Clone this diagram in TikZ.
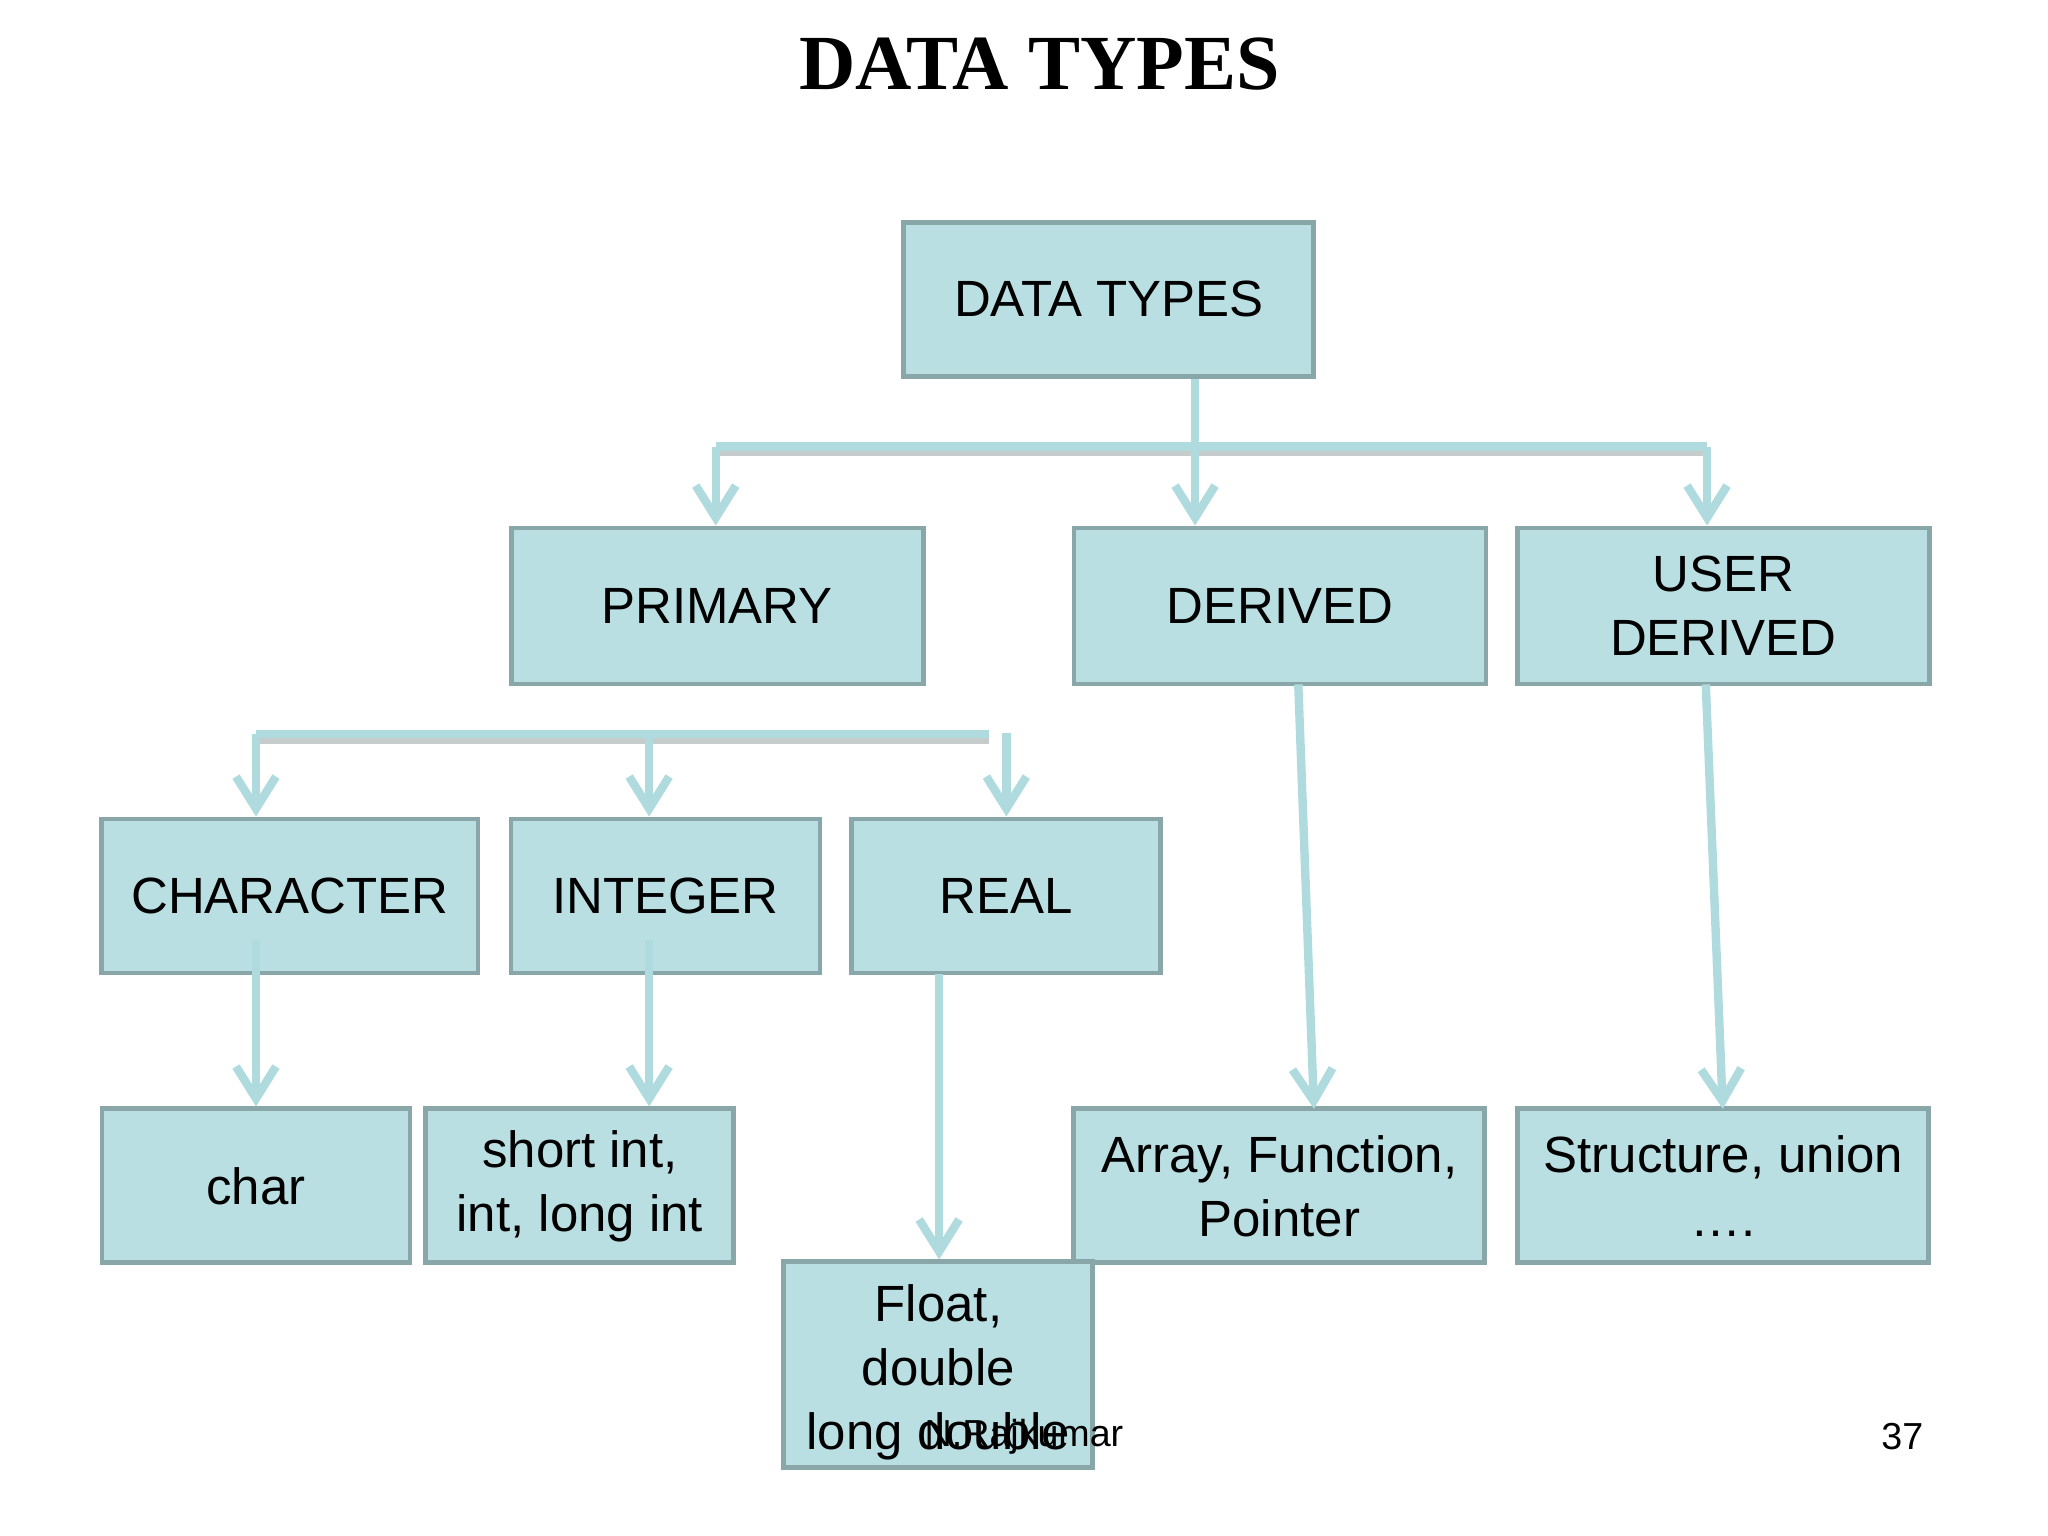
\documentclass[tikz,border=0pt]{standalone}
\usepackage{fontspec}
\setmainfont{Liberation Sans}
\newfontfamily\titlefont{Liberation Serif}
\usetikzlibrary{arrows.meta}
\definecolor{boxfill}{HTML}{BADFE2}
\definecolor{boxline}{HTML}{89A6A9}
\definecolor{connc}{HTML}{B0DBDE}
\definecolor{shadowc}{HTML}{C6CCCC}
\tikzset{
  box/.style={draw=boxline, fill=boxfill, line width=1.4pt, inner sep=0pt,
    align=center, font=\fontsize{14.5}{18.2}\selectfont},
  conn/.style={draw=connc, line width=2.4pt,
    -{Straight Barb[length=0.32cm,width=0.4cm]}},
  bar/.style={draw=connc, line width=2.4pt},
  barshadow/.style={draw=shadowc, line width=2pt},
  wideA/.style={minimum width=4.12cm, minimum height=1.56cm},
  wideB/.style={minimum width=3.09cm, minimum height=1.54cm},
}
\begin{document}
\begin{tikzpicture}[x=0.01306cm, y=-0.01306cm]
\useasboundingbox (0,0) rectangle (1568,1176);

\node[font=\titlefont\bfseries\fontsize{22.2}{26}\selectfont] (title) at (796,49) {DATA TYPES};

% boxes
\node[box, minimum width=4.10cm, minimum height=1.54cm] (dt) at (849,229) {DATA TYPES};
\node[box, wideA] (primary) at (549,464) {PRIMARY};
\node[box, wideA] (derived) at (980,464) {DERIVED};
\node[box, wideA] (user) at (1319.5,464) {USER\\DERIVED};
\node[box, minimum width=3.76cm, minimum height=1.54cm] (character) at (222,686) {CHARACTER};
\node[box, wideB] (integer) at (509.5,686) {INTEGER};
\node[box, wideB] (real) at (770.5,686) {REAL};
\node[box, minimum width=3.08cm, minimum height=1.54cm] (char) at (196,908) {char};
\node[box, minimum width=3.08cm, minimum height=1.54cm] (shortint) at (444,908) {short int,\\int, long int};
\node[box, minimum width=4.11cm, minimum height=1.54cm] (array) at (979.5,908) {Array, Function,\\Pointer};
\node[box, minimum width=4.11cm, minimum height=1.54cm] (structure) at (1319.5,908) {Structure, union\\….};
\node[box, minimum width=3.09cm, minimum height=2.06cm] (float) at (718.5,1045) {\rule{0pt}{14.7pt}Float,\\double\\long double};

% junction coordinates
\coordinate (b1L) at (548,342);
\coordinate (b1R) at (1307,342);
\coordinate (j1) at (915,342);
\coordinate (b2L) at (196,562);
\coordinate (b2M) at (497,562);
\coordinate (b2R) at (757,562);
\coordinate (r0) at (770.5,561);
\coordinate (c0) at (196,720);
\coordinate (i0) at (497,720);
\coordinate (f0) at (719,746);
\coordinate (d0) at (994,524);
\coordinate (u0) at (1306,524);
\coordinate (d1) at (1006,849);
\coordinate (u1) at (1319,849);

% level 1 connectors
\draw[barshadow] ([yshift=-0.06cm]b1L) -- ([yshift=-0.06cm]b1R);
\draw[bar] (b1L) -- (b1R);
\draw[conn] (dt.south -| j1) -- (derived.north -| j1);
\draw[conn] (b1L) -- (primary.north -| b1L);
\draw[conn] (b1R) -- (user.north -| b1R);

% level 2 connectors
\draw[barshadow] ([yshift=-0.06cm]b2L) -- ([yshift=-0.06cm]b2R);
\draw[bar] (b2L) -- (b2R);
\draw[conn] (b2L) -- (character.north -| b2L);
\draw[conn] (b2M) -- (integer.north -| b2M);
\draw[conn] (r0) -- (real.north);

% level 3 connectors
\draw[conn] (c0) -- (char.north -| c0);
\draw[conn] (i0) -- (shortint.north -| i0);
\draw[conn] (f0) -- (float.north -| f0);
\draw[conn] (d0) -- (d1);
\draw[conn] (u0) -- (u1);

% footer
\node[font=\fontsize{10.7}{13}\selectfont] (author) at (784,1100) {N.Rajkumar};
\node[font=\fontsize{10.7}{13}\selectfont, anchor=east, inner sep=0pt] (page) at (1473,1100) {37};
\end{tikzpicture}
\end{document}
